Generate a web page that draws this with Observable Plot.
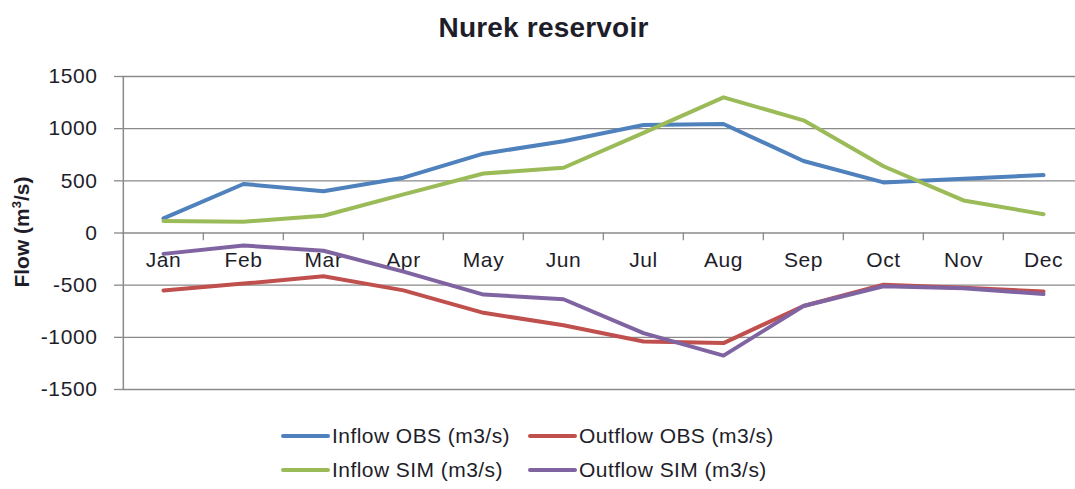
<!DOCTYPE html>
<html>
<head>
<meta charset="utf-8">
<script src="https://cdn.jsdelivr.net/npm/d3@7"></script>
<script src="https://cdn.jsdelivr.net/npm/@observablehq/plot@0.6"></script>
<style>
  html, body { margin: 0; padding: 0; background: #fff; overflow: hidden; }
  body { width: 1075px; height: 489px; position: relative; font-family: "Liberation Sans", Arial, sans-serif; color: #1e1e2a; }
  #title { height: 50px; line-height: 56px; text-align: center; font-weight: bold; font-size: 28px; padding-left: 12px; letter-spacing: 0.2px; }
  #ylabel { position: absolute; left: 21px; top: 232px; transform: translate(-50%, -50%) rotate(-90deg); font-weight: bold; font-size: 21px; white-space: nowrap; }
  #legend { position: relative; height: 79px; font-size: 21px; letter-spacing: 0.45px; }
  .item { position: absolute; white-space: nowrap; line-height: 24px; transform: translateY(-50%); }
  .sw { display: inline-block; width: 49px; height: 4px; border-radius: 2px; vertical-align: middle; margin-right: 2px; position: relative; top: -1px; }
  #chart svg text { letter-spacing: 0.6px; }
</style>
</head>
<body>
<div id="title">Nurek reservoir</div>
<div id="chart"></div>
<div id="ylabel">Flow (m<sup style="font-size:13px">3</sup>/s)</div>
<div id="legend"></div>
<script>
const months = ["Jan","Feb","Mar","Apr","May","Jun","Jul","Aug","Sep","Oct","Nov","Dec"];
const inflowObs  = [140, 470, 400, 530, 760, 880, 1035, 1045, 690, 485, 520, 555];
const outflowObs = [-550, -485, -415, -550, -765, -885, -1040, -1055, -700, -495, -525, -560];
const inflowSim  = [115, 108, 165, 370, 570, 625, 960, 1300, 1080, 640, 312, 180];
const outflowSim = [-200, -120, -170, -370, -590, -635, -960, -1175, -700, -510, -530, -585];
const seriesNames = ["Inflow OBS (m3/s)", "Outflow OBS (m3/s)", "Inflow SIM (m3/s)", "Outflow SIM (m3/s)"];
const seriesValues = [inflowObs, outflowObs, inflowSim, outflowSim];
const colors = ["#4F81BD", "#C0504D", "#9BBB59", "#8064A2"];
const yTicks = [-1500, -1000, -500, 0, 500, 1000, 1500];

const rows = [];
seriesNames.forEach((s, si) => months.forEach((m, i) => rows.push({series: s, month: m, value: seriesValues[si][i]})));

const xRange = [121, 1085];
const bw = (xRange[1] - xRange[0]) / months.length;
const grid = "#8a8a8a";

const chart = Plot.plot({
  width: 1075,
  height: 360,
  marginLeft: 121,
  marginRight: 0,
  marginTop: 26,
  marginBottom: 21,
  style: {fontFamily: "Liberation Sans, Arial, sans-serif", fontSize: "21px", color: "#1e1e2a", background: "#fff"},
  x: {type: "band", domain: months, range: xRange, padding: 0, axis: null},
  y: {domain: [-1500, 1500], axis: null},
  color: {domain: seriesNames, range: colors},
  marks: [
    Plot.gridY(yTicks, {stroke: grid, strokeOpacity: 1, strokeWidth: 1.3}),
    Plot.axisY(yTicks, {tickSize: 7, tickPadding: 17, stroke: grid, strokeWidth: 1.3, tickFormat: d => String(d), fontSize: 21, fill: "#1e1e2a", label: null}),
    Plot.ruleX(["Jan"], {x: d => d, dx: -bw / 2, stroke: grid, strokeWidth: 1.5}),
    Plot.ruleX(months.slice(1), {x: d => d, y1: 0, y2: -75, dx: -bw / 2, stroke: grid, strokeWidth: 1.3}),
    Plot.text(months, {x: d => d, y: () => 0, dy: 27, text: d => d, fontSize: 21, fill: "#1e1e2a"}),
    Plot.line(rows, {x: "month", y: "value", z: "series", stroke: "series", strokeWidth: 4, strokeLinejoin: "round", strokeLinecap: "round"})
  ]
});
document.getElementById("chart").appendChild(chart);

const legend = document.getElementById("legend");
const pos = [[281, 26], [528, 26], [281, 60], [528, 60]];
seriesNames.forEach((s, i) => {
  const d = document.createElement("div");
  d.className = "item";
  d.style.left = pos[i][0] + "px";
  d.style.top = pos[i][1] + "px";
  d.innerHTML = `<span class="sw" style="background:${colors[i]}"></span>${s}`;
  legend.appendChild(d);
});
</script>
</body>
</html>
